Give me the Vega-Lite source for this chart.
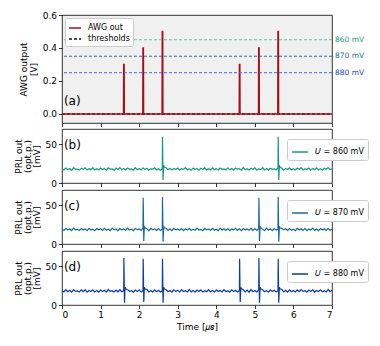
{
  "$schema": "https://vega.github.io/schema/vega-lite/v6.json",
  "padding": {"left": 13, "top": 10, "right": 0, "bottom": 2},
  "spacing": 0,
  "background": "#ffffff",
  "resolve": {
    "scale": {"color": "independent", "stroke": "independent", "fill": "independent", "strokeDash": "independent", "y": "independent", "x": "shared"},
    "legend": {"color": "independent", "strokeDash": "independent"}
  },
  "config": {
    "font": "DejaVu Sans",
    "view": {"stroke": "#000000", "strokeWidth": 0.8},
    "axis": {"grid": false, "domain": false, "labelFontSize": 9, "titleFontSize": 9, "titleFontWeight": "normal", "tickSize": 3.5, "tickColor": "#000000", "tickWidth": 0.8, "labelColor": "#000000", "titleColor": "#000000", "labelPadding": 2, "labelOverlap": false}
  },
  "datasets": {
    "thr": [
      {"u": "860 mV", "v": 0.45},
      {"u": "870 mV", "v": 0.35},
      {"u": "880 mV", "v": 0.25}
    ],
    "awg": [
      {"s": "thresholds", "t": 0, "v": 0}, {"s": "thresholds", "t": 7, "v": 0},
      {"s": "AWG out", "t": 0, "v": 0}, {"s": "AWG out", "t": 1.595, "v": 0}, {"s": "AWG out", "t": 1.6, "v": 0.3}, {"s": "AWG out", "t": 1.61, "v": 0.3}, {"s": "AWG out", "t": 1.615, "v": 0},
      {"s": "AWG out", "t": 2.095, "v": 0}, {"s": "AWG out", "t": 2.1, "v": 0.4}, {"s": "AWG out", "t": 2.11, "v": 0.4}, {"s": "AWG out", "t": 2.115, "v": 0},
      {"s": "AWG out", "t": 2.595, "v": 0}, {"s": "AWG out", "t": 2.6, "v": 0.5}, {"s": "AWG out", "t": 2.61, "v": 0.5}, {"s": "AWG out", "t": 2.615, "v": 0},
      {"s": "AWG out", "t": 4.595, "v": 0}, {"s": "AWG out", "t": 4.6, "v": 0.3}, {"s": "AWG out", "t": 4.61, "v": 0.3}, {"s": "AWG out", "t": 4.615, "v": 0},
      {"s": "AWG out", "t": 5.095, "v": 0}, {"s": "AWG out", "t": 5.1, "v": 0.4}, {"s": "AWG out", "t": 5.11, "v": 0.4}, {"s": "AWG out", "t": 5.115, "v": 0},
      {"s": "AWG out", "t": 5.595, "v": 0}, {"s": "AWG out", "t": 5.6, "v": 0.5}, {"s": "AWG out", "t": 5.61, "v": 0.5}, {"s": "AWG out", "t": 5.615, "v": 0},
      {"s": "AWG out", "t": 7, "v": 0}
    ],
    "prl": [
      {"p":"b","t":0,"v":18.3},{"p":"b","t":0.05,"v":16.9},{"p":"b","t":0.1,"v":19.4},{"p":"b","t":0.15,"v":17.2},{"p":"b","t":0.2,"v":18.8},{"p":"b","t":0.25,"v":16.5},{"p":"b","t":0.3,"v":19.9},{"p":"b","t":0.35,"v":17.8},{"p":"b","t":0.4,"v":18.1},{"p":"b","t":0.45,"v":16.7},{"p":"b","t":0.5,"v":19.2},{"p":"b","t":0.55,"v":17.5},{"p":"b","t":0.6,"v":19.6},{"p":"b","t":0.65,"v":16.9},{"p":"b","t":0.7,"v":18.5},{"p":"b","t":0.75,"v":17.3},{"p":"b","t":0.8,"v":19.8},{"p":"b","t":0.85,"v":17.0},{"p":"b","t":0.9,"v":18.6},{"p":"b","t":0.95,"v":16.8},
      {"p":"b","t":1,"v":19.5},{"p":"b","t":1.05,"v":17.4},{"p":"b","t":1.1,"v":18.9},{"p":"b","t":1.15,"v":16.6},{"p":"b","t":1.2,"v":19.7},{"p":"b","t":1.25,"v":17.9},{"p":"b","t":1.3,"v":18.2},{"p":"b","t":1.35,"v":16.4},{"p":"b","t":1.4,"v":19.3},{"p":"b","t":1.45,"v":17.6},{"p":"b","t":1.5,"v":20.0},{"p":"b","t":1.55,"v":17.1},{"p":"b","t":1.6,"v":18.7},{"p":"b","t":1.65,"v":16.9},{"p":"b","t":1.7,"v":19.4},{"p":"b","t":1.75,"v":17.7},{"p":"b","t":1.8,"v":18.3},{"p":"b","t":1.85,"v":16.6},{"p":"b","t":1.9,"v":19.9},{"p":"b","t":1.95,"v":17.2},
      {"p":"b","t":2,"v":18.8},{"p":"b","t":2.05,"v":16.8},{"p":"b","t":2.1,"v":19.6},{"p":"b","t":2.15,"v":17.4},{"p":"b","t":2.2,"v":19.1},{"p":"b","t":2.25,"v":16.7},{"p":"b","t":2.3,"v":18.4},{"p":"b","t":2.35,"v":17.9},{"p":"b","t":2.4,"v":19.8},{"p":"b","t":2.45,"v":17.0},{"p":"b","t":2.5,"v":18.5},{"p":"b","t":2.55,"v":16.6},{"p":"b","t":2.6,"v":18.2},{"p":"b","t":2.605,"v":60},{"p":"b","t":2.62,"v":4},{"p":"b","t":2.635,"v":23},{"p":"b","t":2.65,"v":20.8},{"p":"b","t":2.7,"v":19.7},{"p":"b","t":2.75,"v":17.1},{"p":"b","t":2.8,"v":19.0},{"p":"b","t":2.85,"v":16.8},{"p":"b","t":2.9,"v":18.9},{"p":"b","t":2.95,"v":17.5},
      {"p":"b","t":3,"v":19.3},{"p":"b","t":3.05,"v":16.9},{"p":"b","t":3.1,"v":18.6},{"p":"b","t":3.15,"v":17.6},{"p":"b","t":3.2,"v":19.9},{"p":"b","t":3.25,"v":17.2},{"p":"b","t":3.3,"v":18.3},{"p":"b","t":3.35,"v":16.5},{"p":"b","t":3.4,"v":19.5},{"p":"b","t":3.45,"v":17.8},{"p":"b","t":3.5,"v":18.7},{"p":"b","t":3.55,"v":16.7},{"p":"b","t":3.6,"v":19.2},{"p":"b","t":3.65,"v":17.4},{"p":"b","t":3.7,"v":19.8},{"p":"b","t":3.75,"v":17.0},{"p":"b","t":3.8,"v":18.4},{"p":"b","t":3.85,"v":16.9},{"p":"b","t":3.9,"v":19.6},{"p":"b","t":3.95,"v":17.3},
      {"p":"b","t":4,"v":18.9},{"p":"b","t":4.05,"v":16.6},{"p":"b","t":4.1,"v":19.4},{"p":"b","t":4.15,"v":17.7},{"p":"b","t":4.2,"v":18.2},{"p":"b","t":4.25,"v":16.8},{"p":"b","t":4.3,"v":19.7},{"p":"b","t":4.35,"v":17.1},{"p":"b","t":4.4,"v":18.8},{"p":"b","t":4.45,"v":16.5},{"p":"b","t":4.5,"v":19.3},{"p":"b","t":4.55,"v":17.9},{"p":"b","t":4.6,"v":18.5},{"p":"b","t":4.65,"v":16.7},{"p":"b","t":4.7,"v":20.1},{"p":"b","t":4.75,"v":17.2},{"p":"b","t":4.8,"v":18.6},{"p":"b","t":4.85,"v":16.9},{"p":"b","t":4.9,"v":19.1},{"p":"b","t":4.95,"v":17.5},
      {"p":"b","t":5,"v":19.6},{"p":"b","t":5.05,"v":16.8},{"p":"b","t":5.1,"v":18.3},{"p":"b","t":5.15,"v":17.4},{"p":"b","t":5.2,"v":19.9},{"p":"b","t":5.25,"v":17.0},{"p":"b","t":5.3,"v":18.7},{"p":"b","t":5.35,"v":16.6},{"p":"b","t":5.4,"v":19.2},{"p":"b","t":5.45,"v":17.8},{"p":"b","t":5.5,"v":18.4},{"p":"b","t":5.55,"v":16.9},{"p":"b","t":5.6,"v":19.5},{"p":"b","t":5.605,"v":60},{"p":"b","t":5.62,"v":4},{"p":"b","t":5.635,"v":23},{"p":"b","t":5.65,"v":20.6},{"p":"b","t":5.7,"v":19.0},{"p":"b","t":5.75,"v":16.7},{"p":"b","t":5.8,"v":18.8},{"p":"b","t":5.85,"v":17.6},{"p":"b","t":5.9,"v":19.7},{"p":"b","t":5.95,"v":17.1},
      {"p":"b","t":6,"v":18.5},{"p":"b","t":6.05,"v":16.8},{"p":"b","t":6.1,"v":19.3},{"p":"b","t":6.15,"v":17.5},{"p":"b","t":6.2,"v":19.8},{"p":"b","t":6.25,"v":16.9},{"p":"b","t":6.3,"v":18.2},{"p":"b","t":6.35,"v":17.7},{"p":"b","t":6.4,"v":19.4},{"p":"b","t":6.45,"v":16.6},{"p":"b","t":6.5,"v":18.9},{"p":"b","t":6.55,"v":17.2},{"p":"b","t":6.6,"v":19.6},{"p":"b","t":6.65,"v":17.0},{"p":"b","t":6.7,"v":18.6},{"p":"b","t":6.75,"v":16.7},{"p":"b","t":6.8,"v":19.1},{"p":"b","t":6.85,"v":17.8},{"p":"b","t":6.9,"v":19.9},{"p":"b","t":6.95,"v":17.3},{"p":"b","t":7,"v":18.4},

      {"p":"c","t":0,"v":19.1},{"p":"c","t":0.05,"v":17.6},{"p":"c","t":0.1,"v":20.2},{"p":"c","t":0.15,"v":18.0},{"p":"c","t":0.2,"v":19.7},{"p":"c","t":0.25,"v":17.3},{"p":"c","t":0.3,"v":20.5},{"p":"c","t":0.35,"v":18.4},{"p":"c","t":0.4,"v":19.0},{"p":"c","t":0.45,"v":17.5},{"p":"c","t":0.5,"v":20.1},{"p":"c","t":0.55,"v":18.2},{"p":"c","t":0.6,"v":19.6},{"p":"c","t":0.65,"v":17.4},{"p":"c","t":0.7,"v":20.4},{"p":"c","t":0.75,"v":18.1},{"p":"c","t":0.8,"v":19.3},{"p":"c","t":0.85,"v":17.2},{"p":"c","t":0.9,"v":20.0},{"p":"c","t":0.95,"v":18.5},
      {"p":"c","t":1,"v":19.8},{"p":"c","t":1.05,"v":17.7},{"p":"c","t":1.1,"v":20.3},{"p":"c","t":1.15,"v":17.9},{"p":"c","t":1.2,"v":19.2},{"p":"c","t":1.25,"v":17.4},{"p":"c","t":1.3,"v":20.6},{"p":"c","t":1.35,"v":18.3},{"p":"c","t":1.4,"v":19.5},{"p":"c","t":1.45,"v":17.1},{"p":"c","t":1.5,"v":20.2},{"p":"c","t":1.55,"v":18.0},{"p":"c","t":1.6,"v":19.7},{"p":"c","t":1.65,"v":17.6},{"p":"c","t":1.7,"v":20.5},{"p":"c","t":1.75,"v":18.2},{"p":"c","t":1.8,"v":19.1},{"p":"c","t":1.85,"v":17.3},{"p":"c","t":1.9,"v":20.0},{"p":"c","t":1.95,"v":18.6},
      {"p":"c","t":2,"v":19.4},{"p":"c","t":2.05,"v":17.5},{"p":"c","t":2.1,"v":20.4},{"p":"c","t":2.105,"v":60},{"p":"c","t":2.12,"v":4},{"p":"c","t":2.135,"v":23},{"p":"c","t":2.15,"v":21.0},{"p":"c","t":2.2,"v":19.9},{"p":"c","t":2.25,"v":17.2},{"p":"c","t":2.3,"v":20.3},{"p":"c","t":2.35,"v":18.4},{"p":"c","t":2.4,"v":19.6},{"p":"c","t":2.45,"v":17.7},{"p":"c","t":2.5,"v":20.1},{"p":"c","t":2.55,"v":17.4},{"p":"c","t":2.6,"v":19.2},{"p":"c","t":2.605,"v":61},{"p":"c","t":2.62,"v":3},{"p":"c","t":2.635,"v":23},{"p":"c","t":2.65,"v":21.0},{"p":"c","t":2.7,"v":20.5},{"p":"c","t":2.75,"v":17.6},{"p":"c","t":2.8,"v":19.8},{"p":"c","t":2.85,"v":17.3},{"p":"c","t":2.9,"v":20.2},{"p":"c","t":2.95,"v":18.3},
      {"p":"c","t":3,"v":19.5},{"p":"c","t":3.05,"v":17.8},{"p":"c","t":3.1,"v":20.0},{"p":"c","t":3.15,"v":17.4},{"p":"c","t":3.2,"v":19.7},{"p":"c","t":3.25,"v":18.2},{"p":"c","t":3.3,"v":20.4},{"p":"c","t":3.35,"v":17.5},{"p":"c","t":3.4,"v":19.3},{"p":"c","t":3.45,"v":17.9},{"p":"c","t":3.5,"v":20.6},{"p":"c","t":3.55,"v":18.1},{"p":"c","t":3.6,"v":19.0},{"p":"c","t":3.65,"v":17.3},{"p":"c","t":3.7,"v":20.2},{"p":"c","t":3.75,"v":18.4},{"p":"c","t":3.8,"v":19.6},{"p":"c","t":3.85,"v":17.6},{"p":"c","t":3.9,"v":20.3},{"p":"c","t":3.95,"v":17.9},
      {"p":"c","t":4,"v":19.2},{"p":"c","t":4.05,"v":17.4},{"p":"c","t":4.1,"v":20.5},{"p":"c","t":4.15,"v":18.0},{"p":"c","t":4.2,"v":19.8},{"p":"c","t":4.25,"v":17.7},{"p":"c","t":4.3,"v":20.1},{"p":"c","t":4.35,"v":17.3},{"p":"c","t":4.4,"v":19.4},{"p":"c","t":4.45,"v":18.3},{"p":"c","t":4.5,"v":20.4},{"p":"c","t":4.55,"v":17.6},{"p":"c","t":4.6,"v":19.7},{"p":"c","t":4.65,"v":17.2},{"p":"c","t":4.7,"v":20.0},{"p":"c","t":4.75,"v":18.1},{"p":"c","t":4.8,"v":19.5},{"p":"c","t":4.85,"v":17.8},{"p":"c","t":4.9,"v":20.6},{"p":"c","t":4.95,"v":17.5},
      {"p":"c","t":5,"v":19.9},{"p":"c","t":5.05,"v":17.6},{"p":"c","t":5.1,"v":20.2},{"p":"c","t":5.105,"v":60},{"p":"c","t":5.12,"v":4},{"p":"c","t":5.135,"v":23},{"p":"c","t":5.15,"v":21.2},{"p":"c","t":5.2,"v":19.3},{"p":"c","t":5.25,"v":17.4},{"p":"c","t":5.3,"v":20.5},{"p":"c","t":5.35,"v":17.9},{"p":"c","t":5.4,"v":19.6},{"p":"c","t":5.45,"v":17.3},{"p":"c","t":5.5,"v":20.1},{"p":"c","t":5.55,"v":18.0},{"p":"c","t":5.6,"v":19.4},{"p":"c","t":5.605,"v":61},{"p":"c","t":5.62,"v":3},{"p":"c","t":5.635,"v":23},{"p":"c","t":5.65,"v":21.0},{"p":"c","t":5.7,"v":20.3},{"p":"c","t":5.75,"v":18.3},{"p":"c","t":5.8,"v":19.8},{"p":"c","t":5.85,"v":17.5},{"p":"c","t":5.9,"v":20.0},{"p":"c","t":5.95,"v":17.8},
      {"p":"c","t":6,"v":19.1},{"p":"c","t":6.05,"v":17.2},{"p":"c","t":6.1,"v":20.4},{"p":"c","t":6.15,"v":18.1},{"p":"c","t":6.2,"v":19.7},{"p":"c","t":6.25,"v":17.6},{"p":"c","t":6.3,"v":20.2},{"p":"c","t":6.35,"v":17.4},{"p":"c","t":6.4,"v":19.5},{"p":"c","t":6.45,"v":18.0},{"p":"c","t":6.5,"v":20.6},{"p":"c","t":6.55,"v":17.7},{"p":"c","t":6.6,"v":19.3},{"p":"c","t":6.65,"v":17.3},{"p":"c","t":6.7,"v":20.0},{"p":"c","t":6.75,"v":18.2},{"p":"c","t":6.8,"v":19.8},{"p":"c","t":6.85,"v":17.5},{"p":"c","t":6.9,"v":20.3},{"p":"c","t":6.95,"v":17.9},{"p":"c","t":7,"v":19.2},

      {"p":"d","t":0,"v":18.6},{"p":"d","t":0.05,"v":16.9},{"p":"d","t":0.1,"v":19.8},{"p":"d","t":0.15,"v":17.3},{"p":"d","t":0.2,"v":19.1},{"p":"d","t":0.25,"v":16.6},{"p":"d","t":0.3,"v":20.0},{"p":"d","t":0.35,"v":17.7},{"p":"d","t":0.4,"v":18.4},{"p":"d","t":0.45,"v":16.8},{"p":"d","t":0.5,"v":19.5},{"p":"d","t":0.55,"v":17.2},{"p":"d","t":0.6,"v":19.9},{"p":"d","t":0.65,"v":16.7},{"p":"d","t":0.7,"v":18.8},{"p":"d","t":0.75,"v":17.5},{"p":"d","t":0.8,"v":19.6},{"p":"d","t":0.85,"v":17.0},{"p":"d","t":0.9,"v":18.9},{"p":"d","t":0.95,"v":16.5},
      {"p":"d","t":1,"v":19.7},{"p":"d","t":1.05,"v":17.4},{"p":"d","t":1.1,"v":19.0},{"p":"d","t":1.15,"v":16.8},{"p":"d","t":1.2,"v":20.1},{"p":"d","t":1.25,"v":17.6},{"p":"d","t":1.3,"v":18.5},{"p":"d","t":1.35,"v":16.9},{"p":"d","t":1.4,"v":19.4},{"p":"d","t":1.45,"v":17.1},{"p":"d","t":1.5,"v":19.8},{"p":"d","t":1.55,"v":17.3},{"p":"d","t":1.6,"v":18.7},{"p":"d","t":1.605,"v":61},{"p":"d","t":1.62,"v":3},{"p":"d","t":1.635,"v":23},{"p":"d","t":1.65,"v":21.1},{"p":"d","t":1.7,"v":19.9},{"p":"d","t":1.75,"v":17.8},{"p":"d","t":1.8,"v":18.6},{"p":"d","t":1.85,"v":16.7},{"p":"d","t":1.9,"v":19.3},{"p":"d","t":1.95,"v":17.4},
      {"p":"d","t":2,"v":19.6},{"p":"d","t":2.05,"v":16.8},{"p":"d","t":2.1,"v":18.9},{"p":"d","t":2.105,"v":60},{"p":"d","t":2.12,"v":4},{"p":"d","t":2.135,"v":23},{"p":"d","t":2.15,"v":20.9},{"p":"d","t":2.2,"v":20.0},{"p":"d","t":2.25,"v":17.0},{"p":"d","t":2.3,"v":18.7},{"p":"d","t":2.35,"v":16.6},{"p":"d","t":2.4,"v":19.5},{"p":"d","t":2.45,"v":17.3},{"p":"d","t":2.5,"v":19.1},{"p":"d","t":2.55,"v":16.9},{"p":"d","t":2.6,"v":18.4},{"p":"d","t":2.605,"v":60},{"p":"d","t":2.62,"v":3},{"p":"d","t":2.635,"v":23},{"p":"d","t":2.65,"v":21.0},{"p":"d","t":2.7,"v":19.8},{"p":"d","t":2.75,"v":17.2},{"p":"d","t":2.8,"v":18.8},{"p":"d","t":2.85,"v":16.7},{"p":"d","t":2.9,"v":19.7},{"p":"d","t":2.95,"v":17.4},
      {"p":"d","t":3,"v":19.2},{"p":"d","t":3.05,"v":16.8},{"p":"d","t":3.1,"v":19.9},{"p":"d","t":3.15,"v":17.5},{"p":"d","t":3.2,"v":18.6},{"p":"d","t":3.25,"v":16.9},{"p":"d","t":3.3,"v":20.2},{"p":"d","t":3.35,"v":17.1},{"p":"d","t":3.4,"v":18.9},{"p":"d","t":3.45,"v":16.7},{"p":"d","t":3.5,"v":19.4},{"p":"d","t":3.55,"v":17.6},{"p":"d","t":3.6,"v":19.7},{"p":"d","t":3.65,"v":16.8},{"p":"d","t":3.7,"v":18.5},{"p":"d","t":3.75,"v":17.3},{"p":"d","t":3.8,"v":20.0},{"p":"d","t":3.85,"v":17.0},{"p":"d","t":3.9,"v":19.1},{"p":"d","t":3.95,"v":16.6},
      {"p":"d","t":4,"v":19.5},{"p":"d","t":4.05,"v":17.4},{"p":"d","t":4.1,"v":18.8},{"p":"d","t":4.15,"v":16.9},{"p":"d","t":4.2,"v":19.9},{"p":"d","t":4.25,"v":17.2},{"p":"d","t":4.3,"v":18.6},{"p":"d","t":4.35,"v":16.7},{"p":"d","t":4.4,"v":19.6},{"p":"d","t":4.45,"v":17.5},{"p":"d","t":4.5,"v":19.0},{"p":"d","t":4.55,"v":16.8},{"p":"d","t":4.6,"v":18.5},{"p":"d","t":4.605,"v":60},{"p":"d","t":4.62,"v":4},{"p":"d","t":4.635,"v":23},{"p":"d","t":4.65,"v":21.2},{"p":"d","t":4.7,"v":19.8},{"p":"d","t":4.75,"v":17.0},{"p":"d","t":4.8,"v":19.3},{"p":"d","t":4.85,"v":16.6},{"p":"d","t":4.9,"v":20.1},{"p":"d","t":4.95,"v":17.3},
      {"p":"d","t":5,"v":18.7},{"p":"d","t":5.05,"v":16.9},{"p":"d","t":5.1,"v":19.4},{"p":"d","t":5.105,"v":61},{"p":"d","t":5.12,"v":3},{"p":"d","t":5.135,"v":23},{"p":"d","t":5.15,"v":21.0},{"p":"d","t":5.2,"v":19.8},{"p":"d","t":5.25,"v":17.1},{"p":"d","t":5.3,"v":18.9},{"p":"d","t":5.35,"v":16.7},{"p":"d","t":5.4,"v":19.6},{"p":"d","t":5.45,"v":17.4},{"p":"d","t":5.5,"v":19.2},{"p":"d","t":5.55,"v":16.8},{"p":"d","t":5.6,"v":18.6},{"p":"d","t":5.605,"v":60},{"p":"d","t":5.62,"v":3},{"p":"d","t":5.635,"v":23},{"p":"d","t":5.65,"v":21.1},{"p":"d","t":5.7,"v":20.0},{"p":"d","t":5.75,"v":17.0},{"p":"d","t":5.8,"v":19.1},{"p":"d","t":5.85,"v":16.6},{"p":"d","t":5.9,"v":19.7},{"p":"d","t":5.95,"v":17.3},
      {"p":"d","t":6,"v":18.8},{"p":"d","t":6.05,"v":16.9},{"p":"d","t":6.1,"v":19.5},{"p":"d","t":6.15,"v":17.2},{"p":"d","t":6.2,"v":20.0},{"p":"d","t":6.25,"v":17.7},{"p":"d","t":6.3,"v":18.6},{"p":"d","t":6.35,"v":16.7},{"p":"d","t":6.4,"v":19.3},{"p":"d","t":6.45,"v":17.4},{"p":"d","t":6.5,"v":19.9},{"p":"d","t":6.55,"v":16.8},{"p":"d","t":6.6,"v":18.9},{"p":"d","t":6.65,"v":17.6},{"p":"d","t":6.7,"v":19.6},{"p":"d","t":6.75,"v":17.1},{"p":"d","t":6.8,"v":18.5},{"p":"d","t":6.85,"v":16.9},{"p":"d","t":6.9,"v":20.1},{"p":"d","t":6.95,"v":17.3},{"p":"d","t":7,"v":19.0}
    ]
  },
  "vconcat": [
    {
      "width": 270, "height": 108,
      "view": {"fill": "#f0f0f0", "stroke": "#000000", "strokeWidth": 0.8},
      "layer": [
        {
          "data": {"name": "awg"},
          "mark": {"type": "line", "strokeWidth": 1.5},
          "encoding": {
            "x": {"field": "t", "type": "quantitative", "scale": {"domain": [0, 7], "nice": false}, "axis": {"values": [0, 1, 2, 3, 4, 5, 6, 7], "labels": false, "title": null, "maxExtent": 4}},
            "y": {"field": "v", "type": "quantitative", "scale": {"domain": [-0.055, 0.6], "nice": false, "zero": false}, "axis": {"values": [0, 0.2, 0.4, 0.6], "format": ".1f", "title": ["AWG output", "[V]"], "titleLineHeight": 10, "titlePadding": 4}},
            "color": {"field": "s", "type": "nominal", "scale": {"domain": ["AWG out", "thresholds"], "range": ["#a3101c", "#111111"]}, "legend": {"title": null, "orient": "top-left", "offset": 3, "fillColor": "#ffffff", "strokeColor": "#cccccc", "padding": 3, "cornerRadius": 2, "labelFontSize": 8, "symbolType": "stroke", "symbolSize": 144, "symbolStrokeWidth": 1.5, "rowPadding": -1, "labelOffset": 6}},
            "strokeDash": {"field": "s", "type": "nominal", "scale": {"domain": ["AWG out", "thresholds"], "range": [[1, 0], [3, 2]]}, "legend": {"title": null, "orient": "top-left", "offset": 3, "fillColor": "#ffffff", "strokeColor": "#cccccc", "padding": 3, "cornerRadius": 2, "labelFontSize": 8, "symbolType": "stroke", "symbolSize": 144, "symbolStrokeWidth": 1.5, "rowPadding": -1, "labelOffset": 6}}
          }
        },
        {
          "data": {"name": "thr"},
          "mark": {"type": "rule", "strokeDash": [3, 2], "strokeWidth": 1},
          "encoding": {
            "y": {"field": "v", "type": "quantitative", "axis": {"values": [0, 0.2, 0.4, 0.6], "format": ".1f", "title": ["AWG output", "[V]"], "titleLineHeight": 10, "titlePadding": 4}},
            "stroke": {"field": "u", "type": "nominal", "scale": {"domain": ["860 mV", "870 mV", "880 mV"], "range": ["#5fc4a7", "#2b6f96", "#4c68d3"]}, "legend": null}
          }
        },
        {
          "data": {"name": "thr"},
          "mark": {"type": "text", "align": "left", "baseline": "middle", "dx": 3, "fontSize": 7.5},
          "encoding": {
            "x": {"datum": 7, "type": "quantitative", "axis": {"values": [0, 1, 2, 3, 4, 5, 6, 7], "labels": false, "title": null, "maxExtent": 4}},
            "y": {"field": "v", "type": "quantitative", "axis": {"values": [0, 0.2, 0.4, 0.6], "format": ".1f", "title": ["AWG output", "[V]"], "titleLineHeight": 10, "titlePadding": 4}},
            "text": {"field": "u"},
            "fill": {"field": "u", "type": "nominal", "scale": {"domain": ["860 mV", "870 mV", "880 mV"], "range": ["#1f9b7c", "#236c95", "#2646c3"]}, "legend": null}
          }
        },
        {
          "data": {"values": [{"lab": "(a)"}]},
          "mark": {"type": "text", "align": "left", "baseline": "middle", "fontSize": 12},
          "encoding": {
            "x": {"datum": 0.05, "type": "quantitative", "axis": {"values": [0, 1, 2, 3, 4, 5, 6, 7], "labels": false, "title": null, "maxExtent": 4}},
            "y": {"datum": 0.08, "type": "quantitative", "axis": {"values": [0, 0.2, 0.4, 0.6], "format": ".1f", "title": ["AWG output", "[V]"], "titleLineHeight": 10, "titlePadding": 4}},
            "text": {"field": "lab"}
          }
        }
      ]
    },
    {
      "width": 270, "height": 54,
      "layer": [
        {
          "data": {"name": "prl"},
          "transform": [{"filter": "datum.p === 'b'"}],
          "mark": {"type": "line", "strokeWidth": 1.2},
          "encoding": {
            "x": {"field": "t", "type": "quantitative", "scale": {"domain": [0, 7], "nice": false}, "axis": {"values": [0, 1, 2, 3, 4, 5, 6, 7], "labels": false, "title": null, "maxExtent": 4}},
            "y": {"field": "v", "type": "quantitative", "scale": {"domain": [0, 70], "nice": false}, "axis": {"values": [0, 50], "title": ["PRL out", "(opt.p.)", "[mV]"], "titleLineHeight": 9, "titlePadding": 4}},
            "color": {"datum": "𝑈 = 860 mV", "type": "nominal", "scale": {"range": ["#139a7c"]}, "legend": {"title": null, "orient": "none", "legendX": 225, "legendY": 10, "fillColor": "#ffffff", "strokeColor": "#cccccc", "padding": 4, "cornerRadius": 2, "labelFontSize": 8, "symbolType": "stroke", "symbolSize": 250, "symbolStrokeWidth": 1.5, "labelOffset": 6}}
          }
        },
        {
          "data": {"values": [{"lab": "(b)"}]},
          "mark": {"type": "text", "align": "left", "baseline": "middle", "fontSize": 12},
          "encoding": {
            "x": {"datum": 0.05, "type": "quantitative", "axis": {"values": [0, 1, 2, 3, 4, 5, 6, 7], "labels": false, "title": null, "maxExtent": 4}},
            "y": {"datum": 49, "type": "quantitative", "axis": {"values": [0, 50], "title": ["PRL out", "(opt.p.)", "[mV]"], "titleLineHeight": 9, "titlePadding": 4}},
            "text": {"field": "lab"}
          }
        }
      ]
    },
    {
      "width": 270, "height": 54,
      "layer": [
        {
          "data": {"name": "prl"},
          "transform": [{"filter": "datum.p === 'c'"}],
          "mark": {"type": "line", "strokeWidth": 1.2},
          "encoding": {
            "x": {"field": "t", "type": "quantitative", "scale": {"domain": [0, 7], "nice": false}, "axis": {"values": [0, 1, 2, 3, 4, 5, 6, 7], "labels": false, "title": null, "maxExtent": 4}},
            "y": {"field": "v", "type": "quantitative", "scale": {"domain": [0, 70], "nice": false}, "axis": {"values": [0, 50], "title": ["PRL out", "(opt.p.)", "[mV]"], "titleLineHeight": 9, "titlePadding": 4}},
            "color": {"datum": "𝑈 = 870 mV", "type": "nominal", "scale": {"range": ["#17699a"]}, "legend": {"title": null, "orient": "none", "legendX": 225, "legendY": 10, "fillColor": "#ffffff", "strokeColor": "#cccccc", "padding": 4, "cornerRadius": 2, "labelFontSize": 8, "symbolType": "stroke", "symbolSize": 250, "symbolStrokeWidth": 1.5, "labelOffset": 6}}
          }
        },
        {
          "data": {"values": [{"lab": "(c)"}]},
          "mark": {"type": "text", "align": "left", "baseline": "middle", "fontSize": 12},
          "encoding": {
            "x": {"datum": 0.05, "type": "quantitative", "axis": {"values": [0, 1, 2, 3, 4, 5, 6, 7], "labels": false, "title": null, "maxExtent": 4}},
            "y": {"datum": 49, "type": "quantitative", "axis": {"values": [0, 50], "title": ["PRL out", "(opt.p.)", "[mV]"], "titleLineHeight": 9, "titlePadding": 4}},
            "text": {"field": "lab"}
          }
        }
      ]
    },
    {
      "width": 270, "height": 54,
      "layer": [
        {
          "data": {"name": "prl"},
          "transform": [{"filter": "datum.p === 'd'"}],
          "mark": {"type": "line", "strokeWidth": 1.2},
          "encoding": {
            "x": {"field": "t", "type": "quantitative", "scale": {"domain": [0, 7], "nice": false}, "axis": {"values": [0, 1, 2, 3, 4, 5, 6, 7], "title": "Time [𝜇𝑠]", "titlePadding": 3}},
            "y": {"field": "v", "type": "quantitative", "scale": {"domain": [0, 70], "nice": false}, "axis": {"values": [0, 50], "title": ["PRL out", "(opt.p.)", "[mV]"], "titleLineHeight": 9, "titlePadding": 4}},
            "color": {"datum": "𝑈 = 880 mV", "type": "nominal", "scale": {"range": ["#0b3aa8"]}, "legend": {"title": null, "orient": "none", "legendX": 225, "legendY": 10, "fillColor": "#ffffff", "strokeColor": "#cccccc", "padding": 4, "cornerRadius": 2, "labelFontSize": 8, "symbolType": "stroke", "symbolSize": 250, "symbolStrokeWidth": 1.5, "labelOffset": 6}}
          }
        },
        {
          "data": {"values": [{"lab": "(d)"}]},
          "mark": {"type": "text", "align": "left", "baseline": "middle", "fontSize": 12},
          "encoding": {
            "x": {"datum": 0.05, "type": "quantitative", "axis": {"values": [0, 1, 2, 3, 4, 5, 6, 7], "title": "Time [𝜇𝑠]", "titlePadding": 3}},
            "y": {"datum": 49, "type": "quantitative", "axis": {"values": [0, 50], "title": ["PRL out", "(opt.p.)", "[mV]"], "titleLineHeight": 9, "titlePadding": 4}},
            "text": {"field": "lab"}
          }
        }
      ]
    }
  ]
}
